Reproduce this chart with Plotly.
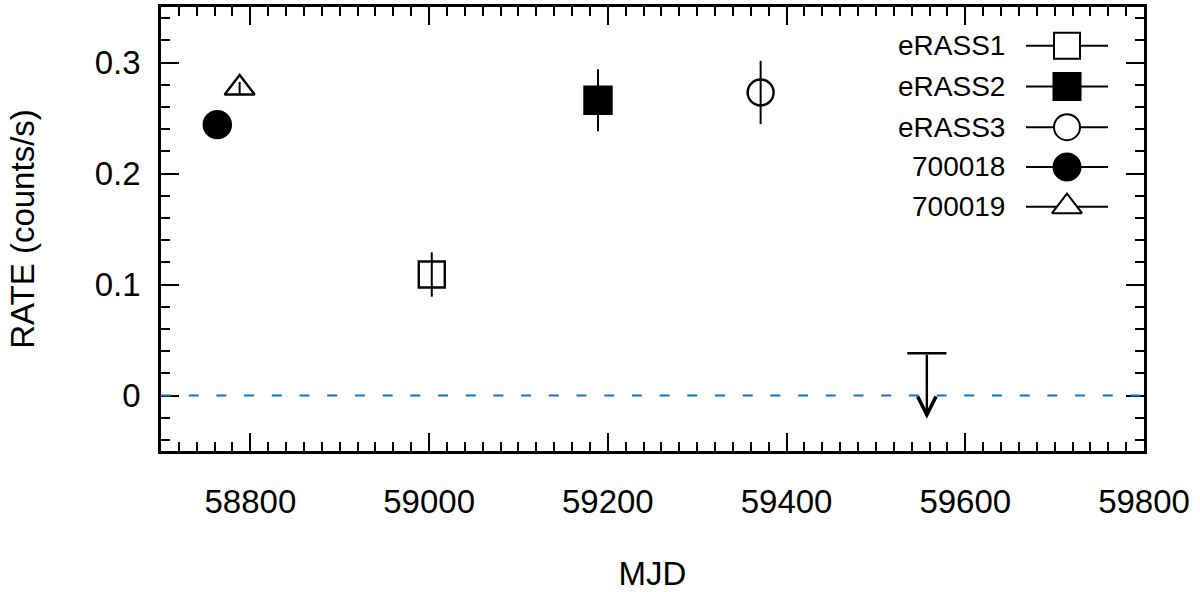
import plotly.graph_objects as go

# detections: name, MJD, rate, 1-sigma error
names = ["eRASS1", "eRASS2", "eRASS3", "700018", "700019"]
mjd = [59003, 59189, 59371, 58763, 58788]
rate = [0.109, 0.266, 0.273, 0.244, 0.277]
rate_err = [0.020, 0.028, 0.0285, 0.004, 0.0055]

# upper limit (eRASS4)
ul_mjd = [59557]
ul_rate = [0.038]
ul_arrow_end = [-0.021]

symbols = ["square-open", "square", "circle-open", "circle", "triangle-up-open"]
sizes = [26, 27, 26, 27, 26]

FONT = "Liberation Sans, Arial, sans-serif"
BLACK = "black"

# plot area in pixels (used for the overlay axis that holds the key)
L, R, T, B = 161, 1144, 4, 451

fig = go.Figure()

for i, name in enumerate(names):
    fig.add_trace(go.Scatter(
        x=[mjd[i]], y=[rate[i]],
        mode="markers",
        marker=dict(symbol=symbols[i], size=sizes[i], color=BLACK,
                    line=dict(color=BLACK, width=2.4)),
        error_y=dict(type="data", array=[rate_err[i]], color=BLACK,
                     thickness=2, width=0),
        name=name,
        showlegend=False,
    ))

# upper limit cap
fig.add_trace(go.Scatter(
    x=ul_mjd, y=ul_rate, mode="markers",
    marker=dict(symbol="line-ew", size=28, line=dict(color=BLACK, width=2.5)),
    showlegend=False,
))
fig.add_annotation(
    x=ul_mjd[0], y=ul_arrow_end[0], ax=ul_mjd[0], ay=ul_rate[0],
    xref="x", yref="y", axref="x", ayref="y",
    showarrow=True, arrowhead=5, arrowsize=1.5, arrowwidth=2.4,
    arrowcolor=BLACK, text="",
)

# zero level
fig.add_hline(y=0, line=dict(color="#0f72c4", width=2, dash="10px,17.7px"))

# key: text on the left, sample on the right (overlay axis in pixel units)
key_rows = [43, 84, 125, 165, 205]
for name, sym, size, ky in zip(names, symbols, sizes, key_rows):
    fig.add_trace(go.Scatter(
        x=[1026, 1108], y=[ky, ky], mode="lines",
        line=dict(color=BLACK, width=2), xaxis="x2", yaxis="y2",
        showlegend=False, hoverinfo="skip",
    ))
    fig.add_trace(go.Scatter(
        x=[1067], y=[ky], mode="markers",
        marker=dict(symbol=sym.replace("-open", ""), size=size,
                    color="white" if "open" in sym else BLACK,
                    line=dict(color=BLACK, width=2)),
        xaxis="x2", yaxis="y2", showlegend=False, hoverinfo="skip",
    ))
    fig.add_annotation(
        x=1007, y=ky, xref="x2", yref="y2", text=name, showarrow=False,
        xanchor="right", yanchor="middle", font=dict(size=28, color=BLACK, family=FONT),
    )

axis_common = dict(
    showline=True, linecolor=BLACK, linewidth=2.5, mirror="allticks",
    ticks="inside", tickcolor=BLACK, tickwidth=2, ticklen=18,
    showgrid=False, zeroline=False,
    tickfont=dict(size=33, color=BLACK, family=FONT),
)

fig.update_layout(
    width=1200, height=592,
    margin=dict(l=L, r=1200 - R, t=T, b=592 - B),
    plot_bgcolor="white", paper_bgcolor="white",
    font=dict(family=FONT, color=BLACK),
    xaxis=dict(
        range=[58700, 59800], tick0=0, dtick=200, tickformat="d",
        minor=dict(dtick=20, ticks="inside", ticklen=9, tickwidth=2, tickcolor=BLACK),
        ticklabelstandoff=20,
        title=dict(text="MJD", font=dict(size=33, color=BLACK, family=FONT), standoff=44),
        **axis_common,
    ),
    yaxis=dict(
        range=[-0.05, 0.35], tickvals=[0, 0.1, 0.2, 0.3], ticktext=["0", "0.1", "0.2", "0.3"],
        minor=dict(dtick=0.02, tick0=0, ticks="inside", ticklen=9, tickwidth=2, tickcolor=BLACK),
        ticklabelstandoff=11,
        title=dict(text="RATE (counts/s)", font=dict(size=33, color=BLACK, family=FONT), standoff=51),
        **axis_common,
    ),
    xaxis2=dict(range=[L, R], overlaying="x", visible=False, fixedrange=True),
    yaxis2=dict(range=[B, T], overlaying="y", visible=False, fixedrange=True),
)

fig.write_html("out.html", config={"displayModeBar": False},
               post_script="document.body.style.margin='0';")
